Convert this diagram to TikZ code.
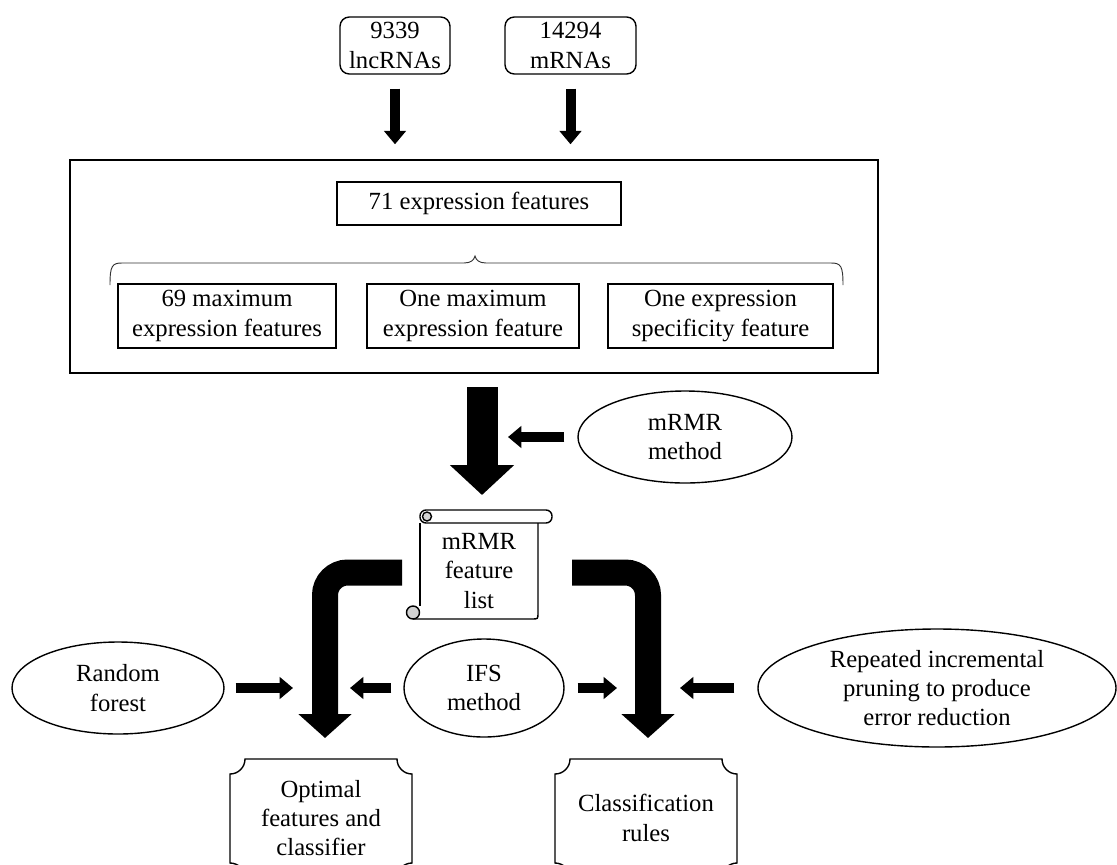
\documentclass[tikz,border=0pt]{standalone}
\usepackage{fontspec}
\setmainfont{Liberation Serif}
\usetikzlibrary{arrows.meta,shapes.geometric}
\begin{document}
\begin{tikzpicture}[x=0.75pt,y=-0.75pt,
  txt/.style={font=\fontsize{18.5}{22}\selectfont, align=center, inner sep=0pt},
  sqbox/.style={txt, draw, line width=1.05pt},
  oval/.style={txt, draw, ellipse, line width=1.05pt},
  thinarrow/.style={line width=7.5pt, -{Triangle[length=10pt,width=16pt]}},
  bigarrow/.style={line width=23.25pt, -{Triangle[length=22.5pt,width=47pt]}},
  bandarrow/.style={line width=19.5pt, rounded corners=17pt, -{Triangle[length=18pt,width=39pt]}},
  outline/.style={line width=1.05pt}
]
\useasboundingbox (0,0) rectangle (1117,864);
\clip (0,0) rectangle (1117,864);

% top inputs
\node[sqbox, rounded corners=7pt, minimum width=82.5pt, minimum height=42.75pt] (lnc) at (395,45.5) {9339\\lncRNAs};
\node[sqbox, rounded corners=7pt, minimum width=98.25pt, minimum height=42.75pt] (mrna) at (570.5,45.5) {14294\\mRNAs};

% outer frame
\node[draw, outline, minimum width=606pt, minimum height=159.75pt] (outer) at (474,266.5) {};
\node[sqbox, minimum width=213pt, minimum height=32.25pt] (f71) at (479,203.5) {71 expression features};
\node[sqbox, minimum width=163.5pt, minimum height=48pt] (b1) at (227,316) {69 maximum\\expression features};
\node[sqbox, minimum width=159pt, minimum height=48pt] (b2) at (473,316) {One maximum\\expression feature};
\node[sqbox, minimum width=168.75pt, minimum height=48pt] (b3) at (720.5,316) {One expression\\specificity feature};

% brace
\draw[line width=0.7pt, black!80] (110,285) .. controls (110,266) and (112,263) .. (122,263) -- (464,263)
  .. controls (471,263) and (474,260) .. (475,256) .. controls (476,260) and (479,263) .. (486,263)
  -- (831,263) .. controls (841,263) and (843,266) .. (843,285);

% arrows into the frame
\draw[thinarrow, shorten <=10.5pt, shorten >=11.25pt] (lnc.south) -- (lnc.south |- outer.north);
\draw[thinarrow, shorten <=10.5pt, shorten >=11.25pt] (mrna.south) -- (mrna.south |- outer.north);

% mRMR method
\node[oval, minimum width=160.5pt, minimum height=69pt] (mm) at (685,437) {mRMR\\method};
\coordinate (bigS) at (482,387);
\coordinate (bigE) at (482,495);
\draw[bigarrow] (bigS) -- (bigE);
\coordinate (mmE) at (508,437);
\draw[thinarrow, shorten <=9.75pt] (mm.west) -- (mmE);

% scroll
\draw[outline, rounded corners=4.5pt] (420,510) rectangle (552,523);
\draw[outline, fill=gray!35] (427,516.5) circle (4.5);
\draw[outline] (420,523) -- (420,606);
\draw[outline] (538,523) -- (538,613) .. controls (538,619) .. (532,619) -- (413,619);
\draw[outline, fill=gray!35] (413,612.5) circle (6.5);
\node[txt] (scroll) at (479,571) {mRMR\\feature\\list};

% bands
\coordinate (lb0) at (402,572.5);
\coordinate (lb1) at (325,572.5);
\coordinate (lb2) at (325,738);
\coordinate (rb0) at (572,572.5);
\coordinate (rb1) at (648,572.5);
\coordinate (rb2) at (648,738);
\draw[bandarrow] (lb0) -- (lb1) -- (lb2);
\draw[bandarrow] (rb0) -- (rb1) -- (rb2);

% method ellipses
\node[oval, minimum width=159pt, minimum height=69pt] (rf) at (118,688) {Random\\forest};
\node[oval, minimum width=120pt, minimum height=73.5pt] (ifs) at (484,688) {IFS\\method};
\node[oval, minimum width=268.5pt, minimum height=88.5pt] (rep) at (937,688) {Repeated incremental\\pruning to produce\\error reduction};

\coordinate (rfE) at (293,688);
\coordinate (ifsL) at (350,688);
\coordinate (ifsR) at (617,688);
\coordinate (repE) at (680,688);
\draw[thinarrow, shorten <=8.25pt] (rf.east) -- (rfE);
\draw[thinarrow, shorten <=9pt] (ifs.west) -- (ifsL);
\draw[thinarrow, shorten <=9.75pt] (ifs.east) -- (ifsR);
\draw[thinarrow, shorten <=17.25pt] (rep.west) -- (repE);

% outputs (plaque shapes)
\draw[outline] (245,759) -- (397,759) .. controls (397,767.3) and (403.7,774) .. (412,774) -- (412,863)
  .. controls (403.7,863) and (397,869.7) .. (397,878) -- (245,878)
  .. controls (245,869.7) and (238.3,863) .. (230,863) -- (230,774)
  .. controls (238.3,774) and (245,767.3) .. (245,759) -- cycle;
\node[txt] (opt) at (321,818) {Optimal\\features and\\classifier};
\draw[outline] (570,759) -- (722,759) .. controls (722,767.3) and (728.7,774) .. (737,774) -- (737,863)
  .. controls (728.7,863) and (722,869.7) .. (722,878) -- (570,878)
  .. controls (570,869.7) and (563.3,863) .. (555,863) -- (555,774)
  .. controls (563.3,774) and (570,767.3) .. (570,759) -- cycle;
\node[txt] (cls) at (646,818) {Classification\\rules};
\end{tikzpicture}
\end{document}
